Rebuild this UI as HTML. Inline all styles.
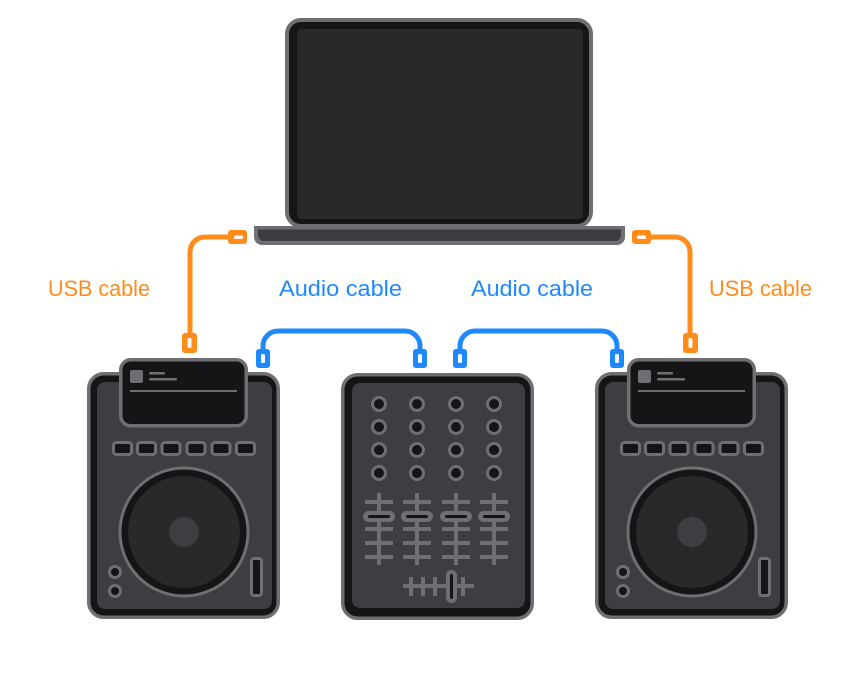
<!DOCTYPE html>
<html><head><meta charset="utf-8"><style>
html,body{margin:0;padding:0;background:#fff;}
svg{display:block;}
text{font-family:"Liberation Sans",sans-serif;font-size:22px;}
</style></head><body>
<svg width="857" height="675" viewBox="0 0 857 675" xmlns="http://www.w3.org/2000/svg">
<defs>
  <g id="dj">
    <rect x="88.75" y="373.75" width="189.5" height="243.5" rx="15" fill="#151517" stroke="#6e6e73" stroke-width="3.5"/>
    <rect x="97" y="382" width="175" height="227" rx="8" fill="#3d3d42"/>
    <rect x="120.75" y="359.75" width="125.5" height="66" rx="10" fill="#151517" stroke="#6e6e73" stroke-width="3.5"/>
    <rect x="130" y="370" width="13" height="13" rx="2" fill="#6e6e73"/>
    <rect x="149" y="372" width="16" height="2.5" rx="1" fill="#6e6e73"/>
    <rect x="149" y="378" width="28" height="2.5" rx="1" fill="#6e6e73"/>
    <rect x="130" y="390" width="107" height="2" fill="#6e6e73"/>
    <g fill="#151517" stroke="#6e6e73" stroke-width="3">
      <rect x="113.5" y="442.5" width="18" height="12" rx="3"/>
      <rect x="137.5" y="442.5" width="18" height="12" rx="3"/>
      <rect x="162" y="442.5" width="18" height="12" rx="3"/>
      <rect x="187" y="442.5" width="18" height="12" rx="3"/>
      <rect x="212" y="442.5" width="18" height="12" rx="3"/>
      <rect x="236.5" y="442.5" width="18" height="12" rx="3"/>
    </g>
    <circle cx="184" cy="532" r="64" fill="#151517" stroke="#6e6e73" stroke-width="3"/>
    <circle cx="184" cy="532" r="56" fill="#29292c"/>
    <circle cx="184" cy="532" r="15" fill="#3d3d42"/>
    <g fill="#151517" stroke="#6e6e73" stroke-width="3">
      <circle cx="115" cy="572" r="5.5"/>
      <circle cx="115" cy="591" r="5.5"/>
      <rect x="251.5" y="558.5" width="10" height="37" rx="2.5"/>
    </g>
  </g>
</defs>

<!-- Laptop -->
<rect x="287" y="20" width="304" height="206" rx="14" fill="#151517" stroke="#6e6e73" stroke-width="4"/>
<rect x="297" y="29" width="286" height="190" rx="4" fill="#29292c"/>
<path d="M254 226 H625 V237 A8 8 0 0 1 617 245 H262 A8 8 0 0 1 254 237 Z" fill="#6e6e73"/>
<path d="M258 229.5 H621 V235 A6 6 0 0 1 615 241 H264 A6 6 0 0 1 258 235 Z" fill="#3b3b40"/>

<!-- USB cables -->
<g fill="none" stroke="#ff8c1a" stroke-width="5" stroke-linecap="butt">
  <path d="M229 237 H205 A15 15 0 0 0 190 252 V335"/>
  <path d="M651 237 H675 A15 15 0 0 1 690 252 V335"/>
</g>
<g fill="#ff8c1a">
  <rect x="228" y="230" width="19" height="14" rx="3"/>
  <rect x="182" y="333" width="15" height="20" rx="3"/>
  <rect x="632" y="230" width="19" height="14" rx="3"/>
  <rect x="683" y="333" width="15" height="20" rx="3"/>
</g>
<g fill="#fff">
  <rect x="234" y="235.5" width="9" height="3.5" rx="1.5"/>
  <rect x="187.5" y="338" width="4" height="10" rx="1.5"/>
  <rect x="637" y="235.5" width="9" height="3.5" rx="1.5"/>
  <rect x="688.5" y="338" width="4" height="10" rx="1.5"/>
</g>

<!-- Audio cables -->
<g fill="none" stroke="#1e88ff" stroke-width="5">
  <path d="M263 351 V346 A15 15 0 0 1 278 331 H405 A15 15 0 0 1 420 346 V351"/>
  <path d="M460 351 V346 A15 15 0 0 1 475 331 H602 A15 15 0 0 1 617 346 V351"/>
</g>
<g fill="#1e88ff">
  <rect x="256" y="349" width="14" height="19" rx="3"/>
  <rect x="413" y="349" width="14" height="19" rx="3"/>
  <rect x="453" y="349" width="14" height="19" rx="3"/>
  <rect x="610" y="349" width="14" height="19" rx="3"/>
</g>
<g fill="#fff">
  <rect x="261" y="354" width="4" height="9" rx="1.5"/>
  <rect x="418" y="354" width="4" height="9" rx="1.5"/>
  <rect x="458" y="354" width="4" height="9" rx="1.5"/>
  <rect x="615" y="354" width="4" height="9" rx="1.5"/>
</g>

<!-- Labels -->
<text x="48" y="296" fill="#ff8c1a" textLength="102" lengthAdjust="spacingAndGlyphs">USB cable</text>
<text x="279" y="296" fill="#1e88ff" textLength="123" lengthAdjust="spacingAndGlyphs">Audio cable</text>
<text x="471" y="296" fill="#1e88ff" textLength="122" lengthAdjust="spacingAndGlyphs">Audio cable</text>
<text x="709" y="296" fill="#ff8c1a" textLength="103" lengthAdjust="spacingAndGlyphs">USB cable</text>

<!-- DJ players -->
<use href="#dj"/>
<use href="#dj" transform="translate(508 0)"/>

<!-- Mixer -->
<rect x="342.75" y="374.75" width="189.5" height="243.5" rx="15" fill="#151517" stroke="#6e6e73" stroke-width="3.5"/>
<rect x="352" y="383" width="173" height="225" rx="8" fill="#3d3d42"/>
<g fill="#151517" stroke="#6e6e73" stroke-width="3">
  <circle cx="379" cy="404" r="6.5"/><circle cx="417" cy="404" r="6.5"/><circle cx="456" cy="404" r="6.5"/><circle cx="494" cy="404" r="6.5"/>
  <circle cx="379" cy="427" r="6.5"/><circle cx="417" cy="427" r="6.5"/><circle cx="456" cy="427" r="6.5"/><circle cx="494" cy="427" r="6.5"/>
  <circle cx="379" cy="450" r="6.5"/><circle cx="417" cy="450" r="6.5"/><circle cx="456" cy="450" r="6.5"/><circle cx="494" cy="450" r="6.5"/>
  <circle cx="379" cy="473" r="6.5"/><circle cx="417" cy="473" r="6.5"/><circle cx="456" cy="473" r="6.5"/><circle cx="494" cy="473" r="6.5"/>
</g>
<g id="fader" stroke="#6e6e73" stroke-width="4" fill="none">
  <path d="M379 493 V565"/>
  <path d="M365 502 H393 M365 529 H393 M365 543 H393 M365 557 H393"/>
</g>
<g stroke="#6e6e73" stroke-width="4" fill="none">
  <path d="M417 493 V565 M403 502 H431 M403 529 H431 M403 543 H431 M403 557 H431"/>
  <path d="M456 493 V565 M442 502 H470 M442 529 H470 M442 543 H470 M442 557 H470"/>
  <path d="M494 493 V565 M480 502 H508 M480 529 H508 M480 543 H508 M480 557 H508"/>
</g>
<g fill="#6e6e73">
  <rect x="363" y="511" width="32" height="11" rx="5.5"/>
  <rect x="401" y="511" width="32" height="11" rx="5.5"/>
  <rect x="440" y="511" width="32" height="11" rx="5.5"/>
  <rect x="478" y="511" width="32" height="11" rx="5.5"/>
</g>
<g fill="#151517">
  <rect x="368" y="515" width="22" height="3" rx="1.5"/>
  <rect x="406" y="515" width="22" height="3" rx="1.5"/>
  <rect x="445" y="515" width="22" height="3" rx="1.5"/>
  <rect x="483" y="515" width="22" height="3" rx="1.5"/>
</g>
<!-- Crossfader -->
<g stroke="#6e6e73" stroke-width="4" fill="none">
  <path d="M403 586 H474"/>
  <path d="M411 577 V596 M423 577 V596 M435 577 V596 M463 577 V596"/>
</g>
<rect x="446" y="570" width="11" height="33" rx="5.5" fill="#6e6e73"/>
<rect x="450" y="574" width="3" height="25" rx="1.5" fill="#151517"/>
</svg>
</body></html>
